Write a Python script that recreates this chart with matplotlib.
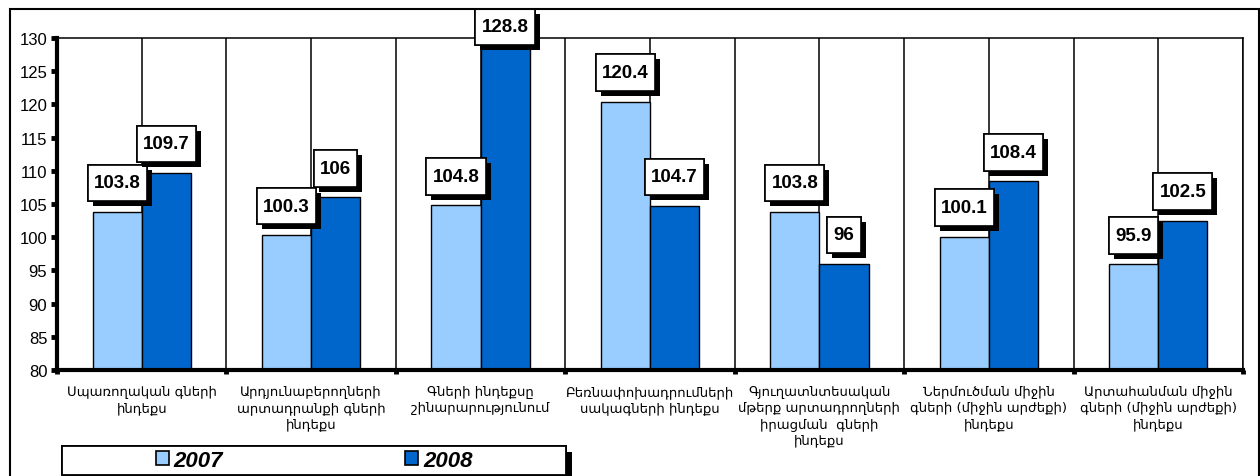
import numpy as np
import matplotlib
matplotlib.use("Agg")
import matplotlib.pyplot as plt
from matplotlib.path import Path
from matplotlib.patches import Patch, Rectangle
import matplotlib.patheffects as pe

categories = [
    "Սպառողական գների\nինդեքս",
    "Արդյունաբերողների\nարտադրանքի գների\nինդեքս",
    "Գների ինդեքսը\nշինարարությունում",
    "Բեռնափոխադրումների\nսակագների ինդեքս",
    "Գյուղատնտեսական\nմթերք արտադրողների\nիրացման  գների\nինդեքս",
    "Ներմուծման միջին\nգների (միջին արժեքի)\nինդեքս",
    "Արտահանման միջին\nգների (միջին արժեքի)\nինդեքս",
]
series_names = ["2007", "2008"]
values_2007 = [103.8, 100.3, 104.8, 120.4, 103.8, 100.1, 95.9]
values_2008 = [109.7, 106, 128.8, 104.7, 96, 108.4, 102.5]
yticks = [80, 85, 90, 95, 100, 105, 110, 115, 120, 125, 130]

c2007 = "#99CCFF"
c2008 = "#0066CC"

W, H = 1260, 477
fig = plt.figure(figsize=(W / 100, H / 100), dpi=100)

def fx(px):
    return px / W

def fy(py):
    return 1 - py / H

# outer chart frame
fig.patches.append(Rectangle((fx(10), -0.1), fx(1249), fy(10) + 0.1,
                             transform=fig.transFigure, fill=False,
                             edgecolor="black", linewidth=1.5))

ax = fig.add_axes([fx(57), fy(371), fx(1243 - 57), (371 - 39) / H])
ax.set_xlim(-0.5, len(categories) - 0.5)
ax.set_ylim(80, 130)

x = np.arange(len(categories))
w = 0.29

# vertical grid lines every half category
for g in np.arange(0, len(categories) - 0.5 + 0.01, 0.5):
    ax.axvline(g, color="black", linewidth=1.1, zorder=1)

b1 = ax.bar(x - w / 2, np.array(values_2007) - 80, w, bottom=80, color=c2007,
            edgecolor="black", linewidth=1.0, zorder=2)
b2 = ax.bar(x + w / 2, np.array(values_2008) - 80, w, bottom=80, color=c2008,
            edgecolor="black", linewidth=1.0, zorder=2)


def label_box(x0, y0, width, height, mutation_size):
    px = 0.33 * mutation_size
    py = 0.52 * mutation_size
    x0, y0 = x0 - px, y0 - py
    x1, y1 = x0 + width + 2 * px, y0 + height + 2 * py
    return Path([(x0, y0), (x1, y0), (x1, y1), (x0, y1), (x0, y0)],
                [Path.MOVETO, Path.LINETO, Path.LINETO, Path.LINETO, Path.CLOSEPOLY])


def fmt(v):
    return f"{v:g}"

# labels sit ~29 px above the bar, but are kept inside the chart frame
for xs, vals in [(x - w / 2, values_2007), (x + w / 2, values_2008)]:
    for xi, v in zip(xs, vals):
        top_px = ax.transData.transform((xi, v))[1]
        off = min(29, (H - 10 - 18) - top_px)
        t = ax.annotate(fmt(v), xy=(xi, v), xytext=(0, off), textcoords="offset pixels",
                        ha="center", va="center", fontsize=13.5, fontweight="bold",
                        family="Liberation Sans", zorder=6, annotation_clip=False,
                        bbox=dict(boxstyle=label_box, facecolor="white",
                                  edgecolor="black", linewidth=1.2))
        t.get_bbox_patch().set_path_effects([
            pe.withSimplePatchShadow(offset=(3.6, -3.6), shadow_rgbFace="black", alpha=1.0),
            pe.Normal()])

# axes styling
for s in ["top", "right"]:
    ax.spines[s].set_linewidth(1.1)
for s in ["left", "bottom"]:
    ax.spines[s].set_linewidth(3.0)

ax.set_yticks(yticks)
ax.set_yticklabels([str(t) for t in yticks], family="Liberation Sans", fontsize=12)
ax.tick_params(axis="y", length=4, width=3.5, pad=3)

ax.set_xticks(np.arange(-0.5, len(categories), 1.0))
ax.set_xticklabels([])
ax.tick_params(axis="x", which="major", length=3, width=3.5)
ax.set_xticks(x, categories, minor=True)
ax.tick_params(axis="x", which="minor", length=0, pad=11)
for lbl in ax.get_xticklabels(minor=True):
    lbl.set_family("DejaVu Sans")
    lbl.set_fontsize(9.5)
    lbl.set_ha("center")
    lbl.set_multialignment("center")
    lbl.set_linespacing(1.3)

# legend box with shadow
lx0, ly0, lx1, ly1 = 62, 447, 566, 476
box = Rectangle((fx(lx0), fy(ly1)), fx(lx1 - lx0), (ly1 - ly0) / H,
                transform=fig.transFigure, facecolor="white", edgecolor="black",
                linewidth=1.3, zorder=5)
box.set_path_effects([pe.withSimplePatchShadow(offset=(4, -4), shadow_rgbFace="black", alpha=1.0),
                      pe.Normal()])
fig.patches.append(box)

handles = [Patch(facecolor=c2007, edgecolor="black", linewidth=1.2),
           Patch(facecolor=c2008, edgecolor="black", linewidth=1.2)]
leg = fig.legend(handles, series_names, loc="center", ncol=2, frameon=False,
                 bbox_to_anchor=(fx((lx0 + lx1) / 2), fy((ly0 + ly1) / 2)),
                 prop=dict(family="Liberation Sans", size=16, weight="bold", style="italic"),
                 handlelength=0.6, handleheight=0.6, handletextpad=0.2,
                 columnspacing=8.2, borderpad=0)
leg.set_zorder(6)

fig.savefig("out.png", dpi=100)
